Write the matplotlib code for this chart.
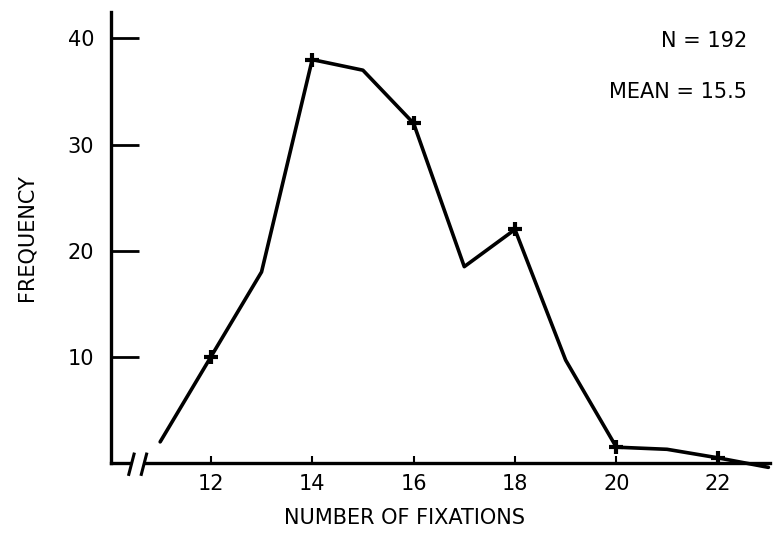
import numpy as np
import matplotlib
matplotlib.use("Agg")
import matplotlib.pyplot as plt

# number of fixations vs frequency
fixations = [11, 12, 13, 14, 15, 16, 17, 18, 19, 20, 21, 22, 23]
frequency = [2, 10, 18, 38, 37, 32, 18.5, 22, 9.7, 1.5, 1.3, 0.5, -0.4]
marked = [12, 14, 16, 18, 20, 22]
xticks = [12, 14, 16, 18, 20, 22]
yticks = [10, 20, 30, 40]

plt.rcParams['font.family'] = ['DejaVu Sans']

fig = plt.figure(figsize=(7.73, 5.36), dpi=100)
ax = fig.add_axes([0.1436, 0.136, 0.8524, 0.842])

ax.plot(fixations, frequency, color='black', lw=2.6, solid_capstyle='round',
        clip_on=False)
mk_y = [frequency[fixations.index(v)] for v in marked]
ax.plot(marked, mk_y, ls='none', marker='+', ms=10, mew=3, color='black')

ax.set_xlim(10.03, 23.03)
ax.set_ylim(0, 42.5)

for s in ['top', 'right', 'bottom']:
    ax.spines[s].set_visible(False)
ax.spines['left'].set_linewidth(2.4)

# bottom axis with a break near the origin
tr = ax.transAxes
ax.plot([0, 0.027], [0, 0], color='black', lw=2.4, transform=tr, clip_on=False)
ax.plot([0.052, 1.0], [0, 0], color='black', lw=2.4, transform=tr, clip_on=False)
for bx in [0.031, 0.05]:
    ax.plot([bx - 0.004, bx + 0.004], [-0.025, 0.02], color='black', lw=2.2,
            transform=tr, clip_on=False)

ax.set_yticks(yticks)
ax.set_xticks(xticks)
ax.tick_params(axis='y', direction='in', length=20, width=2, labelsize=15, pad=-2)
ax.tick_params(axis='x', direction='in', length=5, width=1.5, labelsize=15, pad=8)
for lab in ax.get_yticklabels():
    lab.set_x(-0.03)

ax.set_xlabel('NUMBER OF FIXATIONS', fontsize=15, labelpad=10)
ax.xaxis.set_label_coords(0.446, -0.1)
ax.set_ylabel('FREQUENCY', fontsize=15, labelpad=22)

ax.text(0.965, 0.935, 'N = 192', transform=tr, ha='right', va='center', fontsize=15)
ax.text(0.965, 0.822, 'MEAN = 15.5', transform=tr, ha='right', va='center', fontsize=15)

fig.savefig('out.png', dpi=100)
